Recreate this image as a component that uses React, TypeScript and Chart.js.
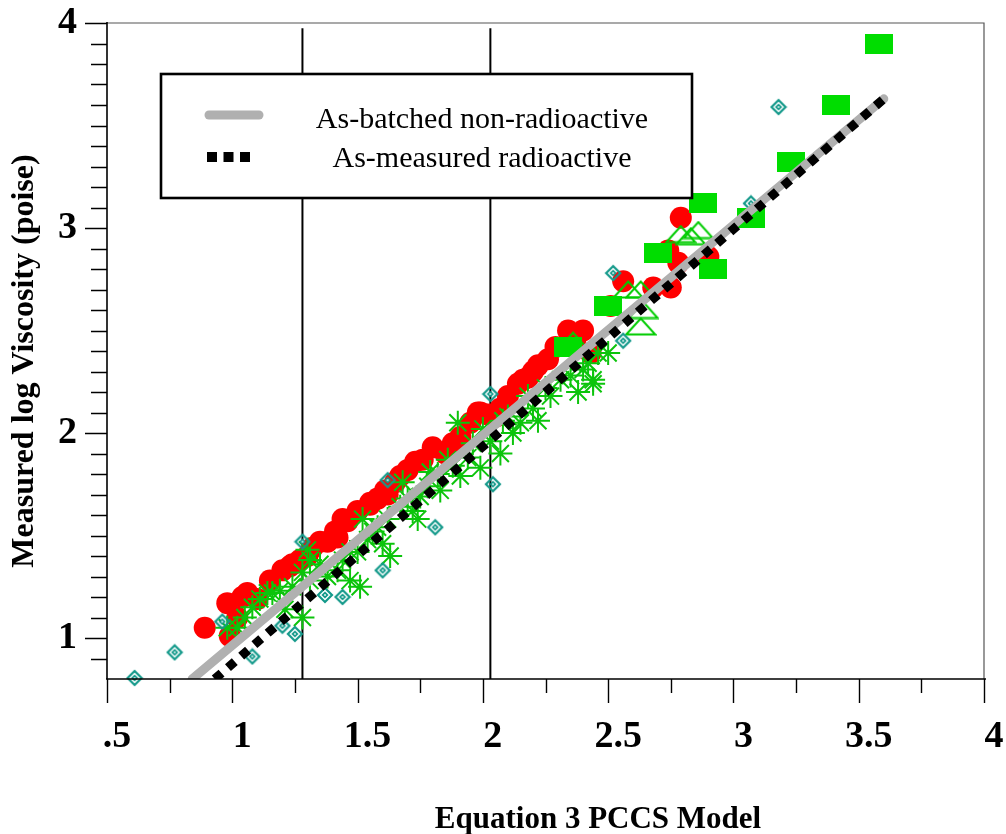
import React, { useEffect, useRef } from 'react';
import { Chart, registerables } from 'chart.js';

Chart.register(...registerables);

// ---------- axis ticks ----------
const xTickValues = [0.5, 1, 1.5, 2, 2.5, 3, 3.5, 4];
const xTickLabels = ['.5', '1', '1.5', '2', '2.5', '3', '3.5', '4'];
const yTickValues = [1, 2, 3, 4];
const yTickLabels = ['1', '2', '3', '4'];

// ---------- texts ----------
const xTitle = 'Equation 3 PCCS Model';
const yTitle = 'Measured log Viscosity (poise)';
const legendLabels = ['As-batched non-radioactive', 'As-measured radioactive'];

// ---------- fit lines ----------
const batchedLineX = [0.84, 3.6];
const batchedLineY = [0.8, 3.63];
const measuredLineX = [0.93, 3.6];
const measuredLineY = [0.8, 3.63];

// ---------- reference verticals ----------
const vLine1X = [1.28, 1.28];
const vLine2X = [2.03, 2.03];
const vLineY = [0.8, 3.975];

// ---------- red circles ----------
const redX = [0.89, 0.98, 1.04, 1.02, 0.99, 1.06, 1.10, 1.15, 1.20, 1.23, 1.24, 1.27, 1.30, 1.32, 1.35, 1.38, 1.41, 1.42, 1.44, 1.46, 1.50, 1.55, 1.55, 1.58, 1.61, 1.62, 1.65, 1.67, 1.70, 1.73, 1.76, 1.80, 1.85, 1.88, 1.91, 1.95, 1.98, 1.99, 2.02, 2.05, 2.07, 2.10, 2.14, 2.16, 2.18, 2.20, 2.22, 2.26, 2.29, 2.34, 2.37, 2.40, 2.43, 2.51, 2.56, 2.68, 2.75, 2.74, 2.78, 2.79, 2.90];
const redY = [1.05, 1.17, 1.20, 1.10, 1.01, 1.22, 1.19, 1.28, 1.33, 1.35, 1.36, 1.38, 1.40, 1.44, 1.47, 1.47, 1.52, 1.49, 1.58, 1.57, 1.62, 1.65, 1.66, 1.68, 1.72, 1.70, 1.76, 1.79, 1.82, 1.86, 1.87, 1.93, 1.90, 1.95, 1.98, 2.05, 2.10, 2.10, 2.09, 2.08, 2.12, 2.18, 2.24, 2.26, 2.27, 2.30, 2.33, 2.36, 2.42, 2.50, 2.46, 2.50, 2.39, 2.62, 2.74, 2.71, 2.71, 2.89, 2.83, 3.05, 2.86];

// ---------- green asterisks ----------
const starX = [0.98, 1.02, 1.05, 1.08, 1.11, 1.14, 1.16, 1.19, 1.21, 1.24, 1.28, 1.28, 1.30, 1.31, 1.31, 1.35, 1.38, 1.42, 1.44, 1.47, 1.47, 1.50, 1.51, 1.52, 1.54, 1.56, 1.58, 1.60, 1.62, 1.63, 1.67, 1.68, 1.70, 1.72, 1.74, 1.75, 1.78, 1.79, 1.82, 1.83, 1.86, 1.88, 1.90, 1.91, 1.94, 1.96, 1.99, 2.00, 2.03, 2.07, 2.08, 2.10, 2.12, 2.15, 2.18, 2.20, 2.22, 2.25, 2.27, 2.31, 2.35, 2.38, 2.40, 2.42, 2.44, 2.44, 2.46, 2.50];
const starY = [1.05, 1.05, 1.10, 1.15, 1.19, 1.22, 1.22, 1.23, 1.14, 1.25, 1.10, 1.32, 1.43, 1.38, 1.28, 1.36, 1.30, 1.33, 1.38, 1.42, 1.28, 1.42, 1.25, 1.58, 1.48, 1.52, 1.54, 1.46, 1.58, 1.40, 1.64, 1.76, 1.68, 1.62, 1.58, 1.69, 1.74, 1.81, 1.80, 1.72, 1.87, 1.84, 2.05, 1.79, 1.88, 1.95, 1.83, 2.02, 1.96, 1.90, 2.06, 2.08, 2.00, 2.05, 2.18, 2.12, 2.06, 2.22, 2.18, 2.26, 2.28, 2.20, 2.31, 2.34, 2.24, 2.26, 2.39, 2.39];

// ---------- green open triangles ----------
const triX = [2.36, 2.58, 2.63, 2.64, 2.63, 2.79, 2.83, 2.86];
const triY = [2.45, 2.70, 2.70, 2.60, 2.52, 2.97, 2.96, 2.99];

// ---------- green filled rectangles ----------
const rectX = [2.34, 2.50, 2.70, 2.88, 2.92, 3.07, 3.23, 3.41, 3.58];
const rectY = [2.42, 2.62, 2.88, 3.12, 2.80, 3.05, 3.32, 3.60, 3.90];

// ---------- teal diamonds ----------
const diaX = [0.61, 0.77, 0.96, 1.08, 1.20, 1.25, 1.28, 1.37, 1.44, 1.60, 1.62, 1.81, 2.03, 2.04, 2.52, 2.56, 3.07, 3.18];
const diaY = [0.805, 0.93, 1.08, 0.91, 1.06, 1.02, 1.47, 1.21, 1.20, 1.33, 1.77, 1.54, 2.19, 1.75, 2.78, 2.45, 3.12, 3.59];

const SERIF = '"Liberation Serif", "Times New Roman", serif';
const TEAL = '#13998a';

const pts = (xs: number[], ys: number[]) => xs.map((x, i) => ({ x, y: ys[i] }));

function makeRect(): HTMLCanvasElement {
  const c = document.createElement('canvas');
  c.width = 28; c.height = 20;
  const g = c.getContext('2d')!;
  g.fillStyle = '#00dd00';
  g.fillRect(0, 0, 28, 20);
  return c;
}
function makeTriangle(): HTMLCanvasElement {
  const c = document.createElement('canvas');
  c.width = 32; c.height = 19;
  const g = c.getContext('2d')!;
  g.strokeStyle = '#00cc00';
  g.lineWidth = 2;
  g.beginPath();
  g.moveTo(1.5, 17.5); g.lineTo(16, 1.5); g.lineTo(30.5, 17.5); g.closePath();
  g.stroke();
  return c;
}
function makeDiamond(): HTMLCanvasElement {
  const c = document.createElement('canvas');
  c.width = 18; c.height = 18;
  const g = c.getContext('2d')!;
  const d = (r: number) => { g.beginPath(); g.moveTo(9, 9 - r); g.lineTo(9 + r, 9); g.lineTo(9, 9 + r); g.lineTo(9 - r, 9); g.closePath(); };
  g.strokeStyle = TEAL; g.lineWidth = 2.2; d(7); g.stroke();
  g.fillStyle = TEAL; d(3.6); g.fill();
  g.fillStyle = '#fff'; g.fillRect(8.2, 8.2, 1.6, 1.6);
  return c;
}

const decorPlugin = {
  id: 'decor',
  afterDraw(chart: any) {
    const { ctx, chartArea: a } = chart;
    const x = chart.scales.x;
    const y = chart.scales.y;
    ctx.save();
    // frame top/right
    ctx.strokeStyle = '#555';
    ctx.lineWidth = 1.2;
    ctx.beginPath();
    ctx.moveTo(a.left, a.top); ctx.lineTo(a.right, a.top); ctx.lineTo(a.right, a.bottom);
    ctx.stroke();
    // axis lines
    ctx.strokeStyle = '#000';
    ctx.lineWidth = 1.6;
    ctx.beginPath();
    ctx.moveTo(a.left - 1, a.bottom); ctx.lineTo(a.right + 2, a.bottom);
    ctx.moveTo(a.left, a.bottom); ctx.lineTo(a.left, a.top - 1);
    ctx.stroke();
    // x ticks
    ctx.lineWidth = 1.4;
    ctx.beginPath();
    for (let i = 0; i <= 14; i++) {
      const v = 0.5 + i * 0.25;
      const px = Math.round(x.getPixelForValue(v)) + 0.5;
      ctx.moveTo(px, a.bottom);
      ctx.lineTo(px, a.bottom + (i % 2 === 0 ? 24 : 14));
    }
    // y ticks
    for (let i = 9; i <= 40; i++) {
      const v = i / 10;
      const py = Math.round(y.getPixelForValue(v)) + 0.5;
      ctx.moveTo(a.left, py);
      ctx.lineTo(a.left - (i % 10 === 0 ? 22 : 16), py);
    }
    ctx.stroke();

    // axis titles
    ctx.fillStyle = '#000';
    ctx.font = `bold 31px ${SERIF}`;
    ctx.textAlign = 'center';
    ctx.textBaseline = 'alphabetic';
    ctx.fillText(xTitle, 598, 828);
    ctx.save();
    ctx.translate(33, 361);
    ctx.rotate(-Math.PI / 2);
    ctx.font = `bold 32px ${SERIF}`;
    ctx.fillText(yTitle, 0, 0);
    ctx.restore();

    // legend box
    const L = 161, T = 74, W = 531, H = 124;
    ctx.fillStyle = '#fff';
    ctx.fillRect(L, T, W, H);
    ctx.strokeStyle = '#000';
    ctx.lineWidth = 2.6;
    ctx.strokeRect(L, T, W, H);
    // gray sample
    ctx.strokeStyle = '#b0b0b0';
    ctx.lineWidth = 9;
    ctx.lineCap = 'round';
    ctx.beginPath(); ctx.moveTo(209, 115); ctx.lineTo(259, 115); ctx.stroke();
    // black dotted sample
    ctx.strokeStyle = '#000';
    ctx.lineWidth = 10;
    ctx.lineCap = 'butt';
    ctx.setLineDash([10, 6.5]);
    ctx.beginPath(); ctx.moveTo(207, 157); ctx.lineTo(250, 157); ctx.stroke();
    ctx.setLineDash([]);
    ctx.fillStyle = '#000';
    ctx.font = `30px ${SERIF}`;
    ctx.textAlign = 'center';
    ctx.fillText(legendLabels[0], 482, 128);
    ctx.fillText(legendLabels[1], 482, 167);
    ctx.restore();
  },
};

export default function App() {
  const ref = useRef<HTMLCanvasElement | null>(null);

  useEffect(() => {
    if (!ref.current) return;
    const rectImg = makeRect();
    const triImg = makeTriangle();
    const diaImg = makeDiamond();

    const chart = new Chart(ref.current, {
      type: 'scatter',
      data: {
        datasets: [
          {
            type: 'line',
            label: 'measured',
            data: pts(measuredLineX, measuredLineY),
            borderColor: '#000',
            borderWidth: 9,
            borderDash: [9, 8.5],
            borderCapStyle: 'butt',
            pointRadius: 0,
            fill: false,
            order: 0,
          },
          {
            type: 'line',
            label: 'batched',
            data: pts(batchedLineX, batchedLineY),
            borderColor: '#b0b0b0',
            borderWidth: 9,
            borderCapStyle: 'round',
            pointRadius: 0,
            fill: false,
            order: 1,
          },
          {
            label: 'diamonds',
            data: pts(diaX, diaY),
            pointStyle: diaImg,
            pointRadius: 9,
            clip: false,
            order: 2,
          },
          {
            label: 'rects',
            data: pts(rectX, rectY),
            pointStyle: rectImg,
            pointRadius: 14,
            clip: false,
            order: 3,
          },
          {
            label: 'triangles',
            data: pts(triX, triY),
            pointStyle: triImg,
            pointRadius: 15,
            clip: false,
            order: 4,
          },
          {
            label: 'stars',
            data: pts(starX, starY),
            pointStyle: 'star',
            pointRadius: 12,
            borderColor: '#0cc40c',
            backgroundColor: '#0cc40c',
            borderWidth: 2,
            clip: false,
            order: 5,
          },
          {
            label: 'red',
            data: pts(redX, redY),
            pointStyle: 'circle',
            pointRadius: 11,
            backgroundColor: '#ff0000',
            borderColor: '#ff0000',
            borderWidth: 0,
            clip: false,
            order: 6,
          },
          {
            type: 'line',
            label: 'v1',
            data: pts(vLine1X, vLineY),
            borderColor: '#000',
            borderWidth: 2,
            pointRadius: 0,
            order: 7,
          },
          {
            type: 'line',
            label: 'v2',
            data: pts(vLine2X, vLineY),
            borderColor: '#000',
            borderWidth: 2,
            pointRadius: 0,
            order: 8,
          },
        ],
      },
      options: {
        responsive: false,
        animation: false,
        events: [],
        layout: { padding: { left: 0, right: 22, top: 23, bottom: 0 } },
        plugins: { legend: { display: false }, tooltip: { enabled: false } },
        scales: {
          x: {
            type: 'linear',
            min: 0.5,
            max: 4,
            grid: { display: false },
            border: { display: false },
            afterBuildTicks: (s: any) => { s.ticks = xTickValues.map((v) => ({ value: v })); },
            afterFit: (s: any) => {
              s.height = 155;
              s.paddingLeft = 0; s.paddingRight = 0; s.paddingTop = 0; s.paddingBottom = 0;
            },
            ticks: {
              autoSkip: false,
              maxRotation: 0,
              padding: 27,
              labelOffset: 10,
              color: '#000',
              font: { family: SERIF, size: 38, weight: 'bold' },
              callback: (v: any) => xTickLabels[xTickValues.indexOf(Number(v))] ?? '',
            },
          },
          y: {
            type: 'linear',
            min: 0.8,
            max: 4,
            grid: { display: false },
            border: { display: false },
            afterBuildTicks: (s: any) => { s.ticks = yTickValues.map((v) => ({ value: v })); },
            afterFit: (s: any) => {
              s.width = 107;
              s.paddingLeft = 0; s.paddingRight = 0; s.paddingTop = 0; s.paddingBottom = 0;
            },
            ticks: {
              autoSkip: false,
              padding: 22,
              color: '#000',
              font: { family: SERIF, size: 38, weight: 'bold', lineHeight: 1 },
              callback: (v: any) => yTickLabels[yTickValues.indexOf(Number(v))] ?? '',
            },
          },
        },
      },
      plugins: [decorPlugin],
    } as any);

    return () => chart.destroy();
  }, []);

  return (
    <div style={{ position: 'absolute', left: 0, top: 0, width: 1006, height: 834, background: '#fff' }}>
      <canvas ref={ref} width={1006} height={834} style={{ display: 'block' }} />
    </div>
  );
}
